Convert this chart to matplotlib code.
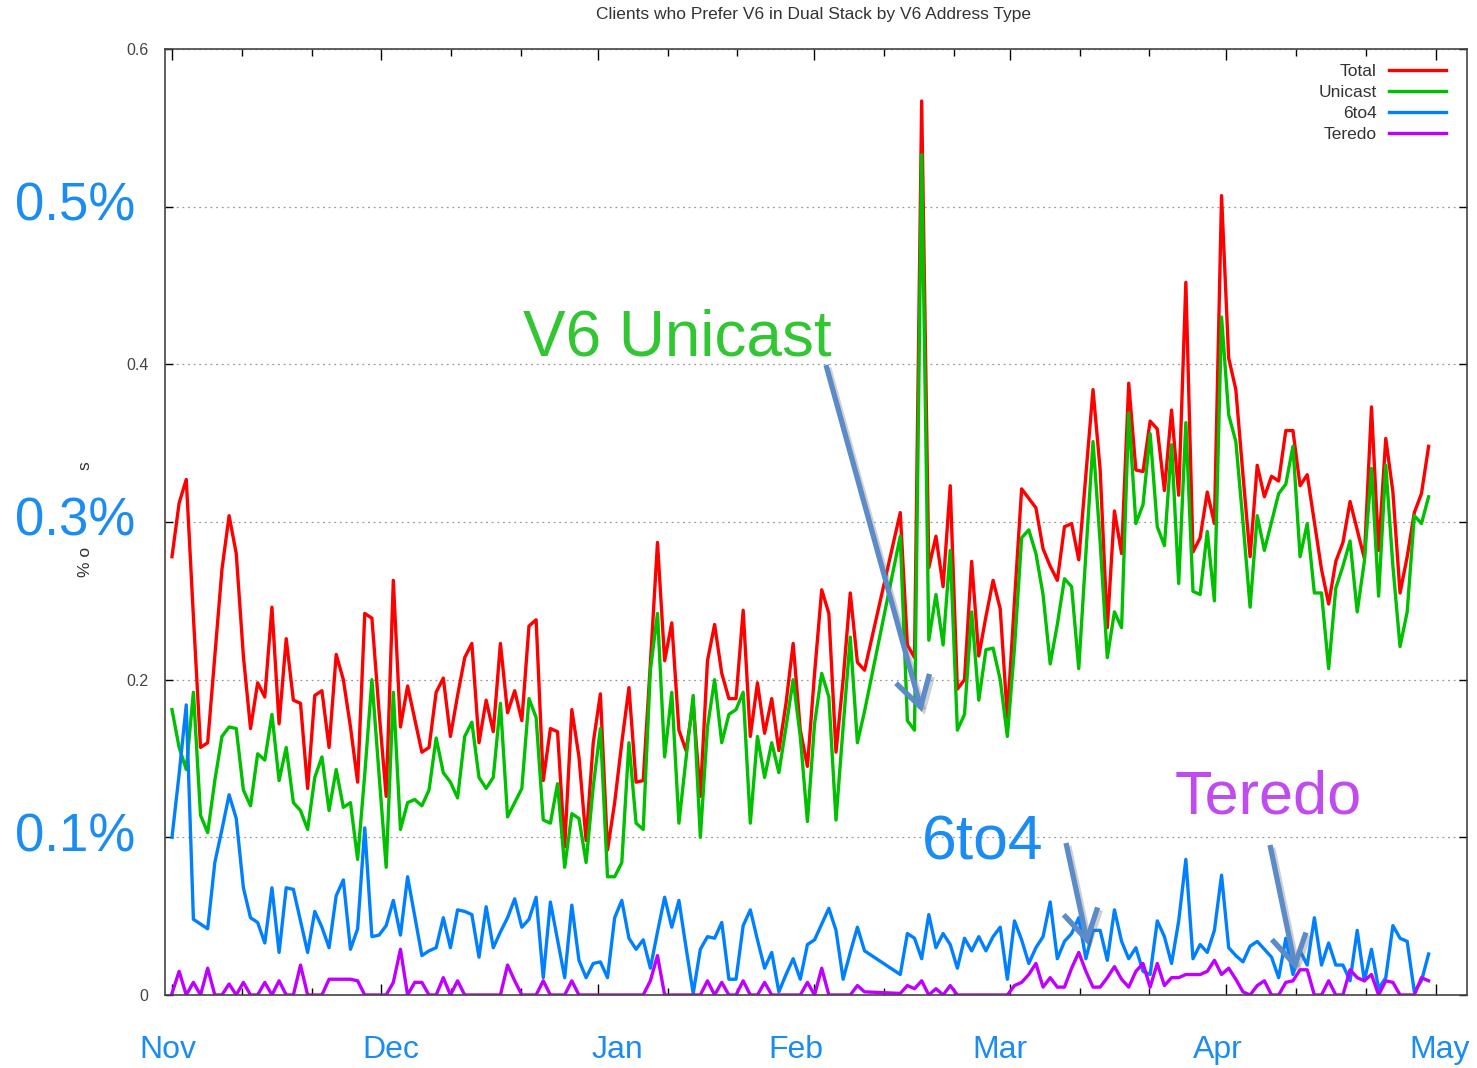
import matplotlib
matplotlib.use("Agg")
import matplotlib.pyplot as plt
import matplotlib.patheffects as pe
import numpy as np
from matplotlib.patches import FancyArrowPatch
from matplotlib.transforms import blended_transform_factory

plt.rcParams["font.family"] = ["Liberation Sans", "DejaVu Sans"]

TITLE = "Clients who Prefer V6 in Dual Stack by V6 Address Type"
# the y label is mostly hidden behind the "0.3%" overlay; only these bits show
Y_LABEL_PARTS = ["% o", "s"]
SERIES = ["Total", "Unicast", "6to4", "Teredo"]
COLORS = ["#ff0000", "#00c000", "#0080ff", "#c000ff"]
MONTHS = ["Nov", "Dec", "Jan", "Feb", "Mar", "Apr", "May"]
MONTH_START = [0, 30, 61, 92, 120, 151, 181]  # days since 1 Nov
PCT_LEVELS = [0.5, 0.3, 0.1]
PCT_LABELS = ["0.5%", "0.3%", "0.1%"]
Y_TICKS = [0.0, 0.1, 0.2, 0.3, 0.4, 0.5, 0.6]
Y_TICK_LABELS = ["0", "", "0.2", "", "0.4", "", "0.6"]

# one sample per reading, Nov 1 .. Apr 30; None = no data (gnuplot joins across)
total = [
    .278, .312, .327, .24, .157, .160, .215, .27, .304, .28,
    .215, .169, .198, .189, .246, .172, .226, .187, .185, .131,
    .19, .193, .157, .216, .2, .17, .135, .242, .239, .18,
    .126, .263, .170, .196, .175, .154, .157, .192, .201, .164,
    .19, .214, .223, .160, .187, .167, .223, .179, .193, .174,
    .234, .238, .136, .169, .167, .094, .181, .151, .098, .160,
    .191, .092, .122, .16, .195, .135, .136, .210, .287, .212,
    .236, .168, .155, .185, .126, .212, .235, .204, .188, .188,
    .244, .164, .198, .166, .188, .155, .185, .223, .168, .145,
    .204, .257, .242, .154, .200, .255, .211, .206, None, None,
    None, None, .306, .222, .214, .567, .271, .291, .259, .323,
    .194, .2, .275, .215, .24, .263, .245, .176, .25, .321,
    .315, .309, .283, .272, .263, .297, .299, .276, .33, .384,
    .333, .233, .307, .280, .388, .333, .332, .364, .359, .320,
    .371, .317, .452, .281, .29, .319, .299, .507, .404, .384,
    .33, .278, .336, .316, .329, .326, .358, .358, .323, .33,
    .30, .27, .248, .275, .287, .313, .295, .277, .373, .282,
    .353, .319, .255, .278, .306, .318, .348,
]
unicast = [
    .181, .157, .143, .192, .114, .103, .136, .164, .170, .169,
    .130, .120, .153, .149, .178, .136, .157, .122, .117, .105,
    .138, .151, .117, .143, .119, .122, .086, .14, .2, .14,
    .081, .192, .105, .122, .124, .12, .13, .163, .141, .135,
    .125, .164, .173, .138, .131, .138, .185, .113, .122, .131,
    .188, .176, .111, .109, .134, .081, .115, .112, .084, .132,
    .169, .075, .075, .084, .160, .109, .105, .206, .242, .151,
    .192, .109, .15, .190, .100, .170, .200, .160, .178, .181,
    .192, .109, .164, .138, .160, .141, .17, .200, .164, .110,
    .172, .204, .189, .111, .170, .227, .160, .18, None, None,
    None, None, .291, .174, .168, .533, .225, .254, .222, .282,
    .168, .178, .243, .187, .219, .220, .2, .164, .22, .29,
    .295, .28, .254, .210, .235, .264, .259, .207, .28, .351,
    .287, .214, .243, .233, .369, .299, .311, .356, .297, .285,
    .349, .261, .363, .256, .254, .294, .250, .43, .368, .351,
    .30, .246, .304, .282, .30, .318, .324, .348, .278, .299,
    .255, .255, .207, .258, .272, .288, .243, .275, .334, .253,
    .336, .272, .221, .243, .304, .299, .316,
]
sixto4 = [
    .1, .14, .184, .048, .045, .042, .084, .105, .127, .112,
    .068, .049, .046, .033, .068, .027, .068, .067, .047, .027,
    .053, .043, .030, .063, .073, .029, .042, .106, .037, .038,
    .044, .060, .038, .075, .05, .025, .028, .030, .049, .030,
    .054, .053, .051, .024, .056, .030, .04, .049, .061, .043,
    .048, .062, .011, .059, .035, .011, .057, .022, .011, .020,
    .021, .011, .049, .060, .036, .029, .035, .017, .04, .062,
    .043, .060, .03, .001, .029, .037, .036, .046, .010, .010,
    .044, .054, .035, .017, .027, .002, .013, .023, .010, .032,
    .035, .045, .055, .041, .010, .027, .043, .028, None, None,
    None, None, .013, .039, .036, .023, .051, .030, .039, .032,
    .017, .036, .028, .037, .028, .037, .043, .010, .047, .035,
    .020, .03, .037, .059, .023, .034, .039, .049, .023, .041,
    .041, .022, .054, .034, .023, .030, .015, .013, .047, .037,
    .020, .047, .086, .023, .032, .027, .041, .076, .030, .025,
    .021, .031, .034, .029, .024, .011, .036, .013, .028, .019,
    .049, .019, .033, .019, .019, .009, .041, .009, .029, .004,
    .011, .044, .036, .034, .002, .009, .026,
]
teredo = [
    .001, .015, 0, .008, 0, .017, 0, 0, .007, 0,
    .008, 0, 0, .008, 0, .009, 0, 0, .019, 0,
    0, 0, .01, .01, .01, .01, .009, 0, 0, 0,
    0, .008, .029, 0, .008, .008, 0, 0, .011, 0,
    .009, 0, 0, 0, 0, 0, 0, .019, .009, 0,
    0, 0, .009, 0, 0, 0, .009, 0, 0, 0,
    0, 0, 0, 0, 0, 0, 0, .009, .025, 0,
    0, 0, 0, 0, 0, .009, 0, .008, 0, 0,
    .009, 0, 0, .008, 0, 0, 0, 0, 0, .008,
    0, .017, 0, 0, 0, 0, .006, .002, None, None,
    None, None, .001, .006, .004, .009, 0, .004, 0, .006,
    0, 0, 0, 0, 0, 0, 0, 0, .006, .008,
    .013, .020, .005, .011, .005, .005, .017, .027, .015, .005,
    .005, .011, .018, .01, .005, .015, .02, .005, .02, .006,
    .011, .011, .013, .013, .013, .015, .022, .013, .017, .010,
    .002, 0, .006, .009, 0, 0, .008, .009, .016, .016,
    0, 0, .009, 0, 0, .016, .011, .009, .013, 0,
    .009, .008, 0, 0, 0, .011, .009,
]

W, H = 1477, 1068
BLUE_TXT = "#1a8cf2"
ARROW = "#5b8bc8"


def fx(px):
    return px / W


def fy(py):
    return 1 - py / H


fig = plt.figure(figsize=(W / 100, H / 100), dpi=100)
ax = fig.add_axes([fx(165), fy(995), fx(1467) - fx(165), fy(49) - fy(995)])

days = np.linspace(0, 180, len(total))
for name, values, color in zip(SERIES, [total, unicast, sixto4, teredo], COLORS):
    y = np.array([np.nan if v is None else v for v in values], dtype=float)
    ok = ~np.isnan(y)
    ax.plot(days[ok], y[ok], color=color, lw=2.4, label=name)

ax.set_xlim(-1, 185.5)
ax.set_ylim(0, 0.6)
ax.set_yticks(Y_TICKS)
ax.set_yticklabels(Y_TICK_LABELS)
ax.yaxis.grid(True, color="#9a9a9a", lw=0.9, linestyle=(0, (1.5, 3)))
ax.tick_params(axis="y", direction="in", length=6, width=1, left=True, right=True,
               labelsize=11.5, labelcolor="#444444", pad=12)

minor_days = [m + k for m in MONTH_START[:-1] for k in (10, 20)]
ax.set_xticks(MONTH_START)
ax.set_xticks(minor_days, minor=True)
ax.set_xticklabels([])
ax.tick_params(axis="x", which="major", direction="in", length=8, width=1, top=True, bottom=True)
ax.tick_params(axis="x", which="minor", direction="in", length=5, width=1, top=True, bottom=True)
for s in ax.spines.values():
    s.set_color("#444444")
    s.set_linewidth(1.2)

# visible fragments of the rotated y label
fig.text(fx(85), fy(562), Y_LABEL_PARTS[0], rotation=90, ha="center", va="center",
         fontsize=12.5, color="#333333")
fig.text(fx(85), fy(466), Y_LABEL_PARTS[1], rotation=90, ha="center", va="center",
         fontsize=12.5, color="#333333")

fig.text(fx(814), fy(15), TITLE, ha="center", va="center", fontsize=12.5, color="#333333")

leg = ax.legend(loc="upper right", frameon=False, markerfirst=False, fontsize=12.5,
                handlelength=3.3, handletextpad=0.7, labelspacing=0.33,
                borderaxespad=0.2, bbox_to_anchor=(0.992, 0.995))
for t in leg.get_texts():
    t.set_color("#333333")

# slide-style overlay labels
pct_tr = blended_transform_factory(fig.transFigure, ax.transData)
for lvl, lab in zip(PCT_LEVELS, PCT_LABELS):
    fig.text(fx(75), lvl, lab, transform=pct_tr, ha="center", va="center",
             fontsize=38, color=BLUE_TXT)

month_px = [168, 391, 617, 796, 1000, 1218, 1440]
for px, lab in zip(month_px, MONTHS):
    fig.text(fx(px), fy(1050), lab, ha="center", va="center", fontsize=23, color=BLUE_TXT)

fig.text(fx(677), fy(338), "V6 Unicast", ha="center", va="center", fontsize=46, color="#33c633")
fig.text(fx(983), fy(843), "6to4", ha="center", va="center", fontsize=45, color=BLUE_TXT)
fig.text(fx(1268), fy(798), "Teredo", ha="center", va="center", fontsize=44, color="#c04cf0")

arrows = [((826, 365), (922, 712)), ((1066, 843), (1088, 945)), ((1270, 845), (1296, 970))]
for (x0, y0), (x1, y1) in arrows:
    arr = FancyArrowPatch((fx(x0), fy(y0)), (fx(x1), fy(y1)), transform=fig.transFigure,
                          arrowstyle="->,head_length=0.85,head_width=0.5", mutation_scale=25,
                          color=ARROW, lw=3.8, capstyle="butt", joinstyle="miter",
                          shrinkA=0, shrinkB=0)
    arr.set_path_effects([pe.SimpleLineShadow(offset=(2, -2), shadow_color="0.4", alpha=0.3),
                          pe.Normal()])
    fig.add_artist(arr)

fig.savefig("out.png", dpi=100)
